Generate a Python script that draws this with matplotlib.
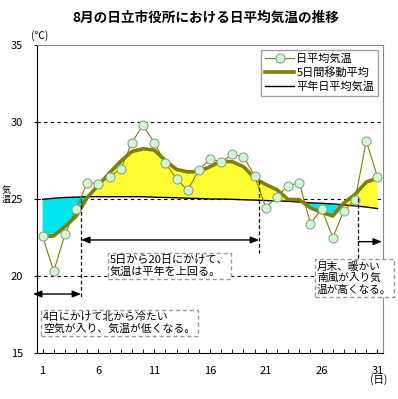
import numpy as np
import matplotlib.pyplot as plt

plt.rcParams['font.family'] = ['Noto Sans CJK JP', 'DejaVu Sans']

days = list(range(1, 32))
daily = [22.6, 20.3, 22.7, 24.35, 26.06, 26.0, 26.43, 26.95, 28.66, 29.8,
         28.66, 27.34, 26.3, 25.56, 26.88, 27.6, 27.4, 27.9, 27.75, 26.5,
         24.44, 25.15, 25.86, 26.06, 23.4, 24.35, 22.5, 24.24, 24.94, 28.77,
         26.45]
moving5 = [22.55, 22.6, 23.2, 23.88, 25.1, 25.9, 26.7, 27.45, 28.08, 28.26,
           28.18, 27.5, 26.92, 26.76, 26.78, 27.1, 27.45, 27.42, 27.1, 26.35,
           25.94, 25.6, 24.97, 24.96, 24.43, 24.12, 23.9, 24.75, 25.3, 26.1,
           26.35]
normal = [24.98, 25.05, 25.1, 25.12, 25.15, 25.15, 25.15, 25.15, 25.15, 25.15,
          25.12, 25.1, 25.08, 25.05, 25.03, 25.0, 25.0, 24.98, 24.95, 24.93,
          24.9, 24.88, 24.85, 24.8, 24.75, 24.72, 24.68, 24.62, 24.55, 24.48,
          24.38]
xticks = [1, 6, 11, 16, 21, 26, 31]
yticks = [15, 20, 25, 30, 35]

W, H = 398, 399
fig = plt.figure(figsize=(W / 100, H / 100), dpi=100)
ax = fig.add_axes([37 / W, 1 - 353 / H, 346 / W, 308 / H])

d = np.array(days)
ma = np.array(moving5)
nm = np.array(normal)
ax.fill_between(d, ma, nm, where=ma >= nm, interpolate=True,
                color='#FFFF33', lw=0, zorder=1)
ax.fill_between(d, ma, nm, where=ma <= nm, interpolate=True,
                color='#00E6EE', lw=0, zorder=1)

for yv in [20, 25, 30]:
    ax.axhline(yv, color='black', ls=(0, (3, 3)), lw=0.8, zorder=0.5)

ax.plot(d, nm, color='black', lw=1.0, zorder=2, label='平年日平均気温')
ax.plot(d, ma, color='#808000', lw=2.6, zorder=3, label='5日間移動平均')
ax.plot(d, daily, color='#808000', lw=0.8, marker='o', ms=6.5,
        mfc='#CCFFCC', mec='#999999', mew=0.8, zorder=4, label='日平均気温')

ax.set_xlim(0.5, 31.5)
ax.set_ylim(15, 35)
ax.set_xticks(xticks)
ax.set_xticks(days, minor=True)
ax.set_yticks(yticks)
ax.tick_params(axis='x', which='both', direction='in', length=3, pad=9,
               labelsize=8)
ax.tick_params(axis='y', direction='out', length=2, pad=8, labelsize=8)
for s in ['top', 'right']:
    ax.spines[s].set_color('#888888')

# annotation lines and arrows
dash = dict(color='black', ls=(0, (3, 2)), lw=0.9, zorder=5)
ax.plot([4.45, 4.45], [25.0, 18.6], **dash)
ax.plot([20.4, 20.4], [26.2, 21.5], **dash)
ax.plot([29.3, 29.3], [25.05, 21.2], **dash)
arr2 = dict(arrowstyle='<|-|>,head_length=0.5,head_width=0.2', color='black',
            lw=1.0, shrinkA=0, shrinkB=0)
arr1 = dict(arrowstyle='-|>,head_length=0.5,head_width=0.2', color='black',
            lw=1.0, shrinkA=0, shrinkB=0)
ax.annotate('', xy=(0.14, 18.83), xytext=(4.45, 18.83), arrowprops=arr2,
            annotation_clip=False)
ax.annotate('', xy=(4.45, 22.34), xytext=(20.4, 22.34), arrowprops=arr2)
ax.annotate('', xy=(31.4, 22.23), xytext=(29.3, 22.23), arrowprops=arr1,
            annotation_clip=False)

box = dict(boxstyle='square,pad=0.22', fc='white', ec='#999999',
           ls=(0, (3, 2)), lw=1.0)
fig.text(110 / W, 1 - 255 / H, '5日から20日にかけて、\n気温は平年を上回る。',
         fontsize=8, va='top', ha='left', linespacing=1.15, bbox=box)
fig.text(43 / W, 1 - 312 / H, '4日にかけて北から冷たい\n空気が入り、気温が低くなる。',
         fontsize=7.8, va='top', ha='left', linespacing=1.15, bbox=box)
fig.text(317 / W, 1 - 261 / H, '月末、暖かい\n南風が入り気\n温が高くなる。',
         fontsize=7.7, va='top', ha='left', linespacing=1.15, bbox=box, zorder=6)

h, l = ax.get_legend_handles_labels()
leg = ax.legend(h[::-1], l[::-1], loc='upper right',
                bbox_to_anchor=(0.986, 0.984), fontsize=8, frameon=True,
                fancybox=False, edgecolor='#888888', handlelength=2.6,
                handletextpad=0.2, borderpad=0.35, labelspacing=0.28,
                borderaxespad=0)
leg.get_frame().set_linewidth(1.0)

fig.text(206 / W, 1 - 18 / H, '8月の日立市役所における日平均気温の推移',
         fontsize=9.8, fontweight='bold', ha='center', va='center')
fig.text(40 / W, 1 - 36 / H, '(℃)', fontsize=7.5, ha='center', va='center')
fig.text(379 / W, 1 - 380 / H, '(日)', fontsize=7.5, ha='center', va='center')
fig.text(6 / W, 1 - 195 / H, '気\n温', fontsize=6.5, ha='center', va='center',
         linespacing=0.95)

fig.savefig('out.png', dpi=100)
